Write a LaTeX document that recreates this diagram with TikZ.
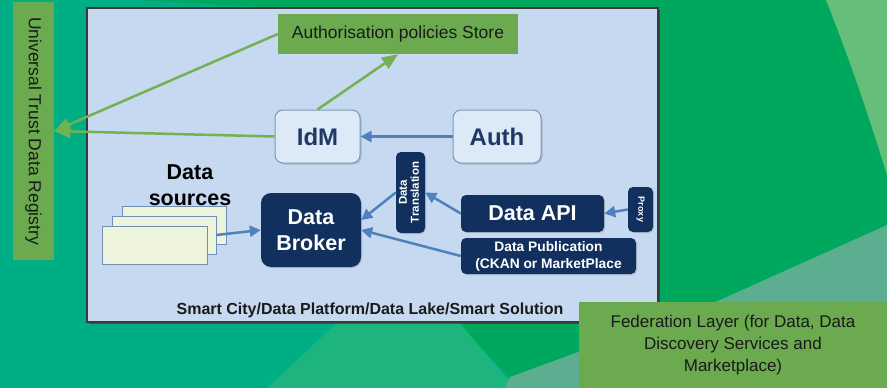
\documentclass[tikz,border=0pt]{standalone}
\usepackage{fontspec}
\usepackage{graphicx}
\setmainfont{Liberation Sans}
\usetikzlibrary{arrows.meta,shadows}

\definecolor{bggreen}{HTML}{00A85E}
\definecolor{bgteal}{HTML}{00AE86}
\definecolor{bglight}{HTML}{1DB57D}
\definecolor{bgpale}{HTML}{66BE7B}
\definecolor{bggray}{HTML}{5BAF90}
\definecolor{panelfill}{HTML}{C6D9F0}
\definecolor{panelline}{HTML}{3A3A3A}
\definecolor{boxgreen}{HTML}{6BAA4E}
\definecolor{arrowgreen}{HTML}{74B152}
\definecolor{arrowblue}{HTML}{4F81BD}
\definecolor{navy}{HTML}{12305E}
\definecolor{navytext}{HTML}{1F3864}
\definecolor{lightfill}{HTML}{DCE9F6}
\definecolor{lightline}{HTML}{7C98B8}
\definecolor{creamfill}{HTML}{EEF3DC}
\definecolor{creamline}{HTML}{6F8FB5}
\definecolor{darktext}{HTML}{1A1A1A}

\newcommand{\fsz}[2]{\fontsize{#1}{#2}\selectfont}

\begin{document}
\begin{tikzpicture}[x=1pt,y=-1pt,
  greenbox/.style={fill=boxgreen, text=darktext, inner sep=0pt, align=center},
  lightbox/.style={rounded corners=8pt, fill=lightfill, draw=lightline, line width=1pt,
    text=navytext, inner sep=0pt, font=\bfseries\fsz{24}{28},
    drop shadow={shadow xshift=1.5pt, shadow yshift=-1.5pt, opacity=0.35}},
  navybox/.style={rounded corners=5pt, fill=navy, text=white, inner sep=0pt, align=center,
    drop shadow={shadow xshift=1pt, shadow yshift=-1pt, opacity=0.3}},
  sourcebox/.style={fill=creamfill, draw=creamline, line width=0.9pt, inner sep=0pt,
    minimum width=104pt, minimum height=38pt,
    drop shadow={shadow xshift=1pt, shadow yshift=-1pt, opacity=0.25}},
  bluearrow/.style={draw=arrowblue, line width=2.5pt, -{Triangle[length=11pt,width=11pt]}},
  greenarrow/.style={draw=arrowgreen, line width=2.5pt, -{Triangle[length=16pt,width=13pt]}}
]
\useasboundingbox (0,0) rectangle (887,388);

% background facets
\fill[bggreen] (0,0) rectangle (887,388);
\fill[bgteal] (0,0) -- (133,0) -- (300,9) -- (300,320) -- (457,323) -- (520,388) -- (0,388) -- cycle;
\fill[bglight] (267,388) -- (340,320) -- (457,320) -- (515,388) -- cycle;
\fill[bggray] (887,225) -- (720,300) -- (510,377) -- (505,388) -- (887,388) -- cycle;
\fill[bgpale] (826,0) .. controls (850,60) and (870,120) .. (887,175) -- (887,0) -- cycle;

% platform panel
\fill[black, opacity=0.35] (89,10) rectangle (660,324);
\node[draw=panelline, fill=panelfill, line width=1.2pt, inner sep=0pt,
  minimum width=571pt, minimum height=314pt] (panel) at (372.5,165) {};
\node[font=\bfseries\fsz{16}{19}, text=darktext] (paneltitle) at (370,310)
  {Smart City/Data Platform/Data Lake/Smart Solution};

% outer layers
\node[greenbox, minimum width=41pt, minimum height=258pt] (utdr) at (33.5,131)
  {\rotatebox{-90}{\fsz{17.5}{20}Universal Trust Data Registry}};
\node[greenbox, minimum width=240pt, minimum height=40pt, font=\fsz{17.5}{20}] (aps) at (398,34)
  {Authorisation policies Store};
\node[greenbox, minimum width=308pt, minimum height=86pt, font=\fsz{17}{22}] (fed) at (733,345)
  {Federation Layer (for Data, Data\\Discovery Services and\\Marketplace)};

% identity components
\node[lightbox, minimum width=85pt, minimum height=53pt] (idm) at (317.5,136.5) {IdM};
\node[lightbox, minimum width=88pt, minimum height=53pt] (auth) at (497,136.5) {Auth};

% data sources
\node[sourcebox] (src1) at (174,225) {};
\node[sourcebox] (src2) at (164,235) {};
\node[sourcebox, minimum width=105pt] (src3) at (154.5,245) {};
\node[font=\bfseries\fsz{21.5}{26}, align=center, text=black] (srclabel) at (190,185)
  {Data\\sources};

% data components
\node[navybox, rounded corners=10pt, minimum width=100pt, minimum height=74pt,
  font=\bfseries\fsz{21.5}{26}] (broker) at (311,230) {Data\\Broker};
\node[navybox, minimum width=29pt, minimum height=81pt] (trans) at (410.5,192.5)
  {\rotatebox{90}{\begin{tabular}{@{}c@{}}\bfseries\fsz{11.5}{13}Data\\\bfseries\fsz{11.5}{13}Translation\end{tabular}}};
\node[navybox, minimum width=143pt, minimum height=37pt,
  font=\bfseries\fsz{21.5}{26}] (api) at (532.5,213.5) {Data API};
\node[navybox, minimum width=25pt, minimum height=45pt] (proxy) at (640.5,209.5)
  {\rotatebox{-90}{\bfseries\fsz{9}{10}Proxy}};
\node[navybox, minimum width=175pt, minimum height=36pt,
  font=\bfseries\fsz{13.8}{17}] (pub) at (548.5,256) {Data Publication\\(CKAN or MarketPlace};

% trust and policy links
\draw[greenarrow] (aps.west) -- (utdr.east);
\draw[greenarrow] (idm.west) -- (utdr.east);
\draw[greenarrow] (idm.north) -- (aps.south);

% data flow
\draw[bluearrow] (auth.west) -- (idm.east);
\draw[bluearrow] (src2.east) -- (broker.west);
\draw[bluearrow] (proxy.west) -- (api.east);
\draw[bluearrow] (api.west) -- (trans.east);
\draw[bluearrow] (trans.west) -- ([yshift=10pt]broker.east);
\draw[bluearrow] (pub.west) -- (broker.east);
\end{tikzpicture}
\end{document}
